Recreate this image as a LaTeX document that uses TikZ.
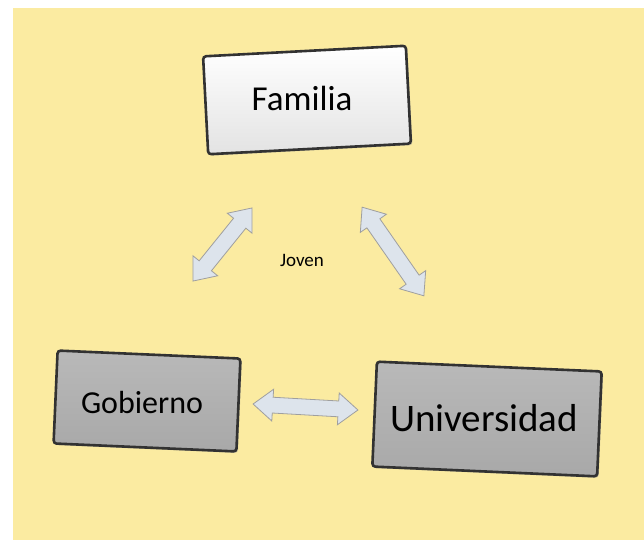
\documentclass[tikz,border=0pt]{standalone}
\usepackage{fontspec}
\setmainfont{Carlito}
\usetikzlibrary{shapes.arrows,shadows}

\definecolor{fondo}{RGB}{251,235,161}
\definecolor{flecha}{RGB}{221,228,236}
\definecolor{borde}{RGB}{50,50,50}

\tikzset{
  caja/.style={rectangle, rounded corners=3pt, draw=borde, line width=2.6pt,
    drop shadow={shadow xshift=1.5pt, shadow yshift=-1.5pt, fill=black!45}},
  cajaclara/.style={caja, top color=white, bottom color=gray!22},
  cajaoscura/.style={caja, top color=gray!55, bottom color=gray!68},
  flechadoble/.style={double arrow, draw=gray!75, fill=flecha, line width=0.8pt,
    inner sep=7.5pt, double arrow head extend=8pt, double arrow tip angle=78}
}

\begin{document}
\begin{tikzpicture}[x=1pt,y=-1pt]
    % \draw[very thin,color=gray] (0,0) grid[step=50] (644,540);
    \useasboundingbox (0,0) rectangle (644,540);
    \fill[white] (0,0) rectangle (644,540);
    \fill[fondo] (13,8) rectangle (644,540);
    %Familia
    \node[cajaclara] [rotate=3, minimum width=203pt, minimum height=98pt] (familia) at (307,100) {};
    \node (tfamilia) at (302,98) {\fontsize{35}{40}\selectfont Familia};
    %Gobierno
    \node[cajaoscura] [rotate=-2.5, minimum width=183pt, minimum height=93pt] (gobierno) at (147,401) {};
    \node (tgobierno) at (142,402) {\fontsize{32}{38}\selectfont Gobierno};
    %Universidad
    \node[cajaoscura] [rotate=-2.5, minimum width=225pt, minimum height=105pt] (universidad) at (487,419) {};
    \node (tuniversidad) at (484,418) {\fontsize{39}{44}\selectfont Universidad};
    %Joven
    \node (joven) at (302,260) {\fontsize{19}{22}\selectfont Joven};
    %flechas
    \coordinate (fg1) at (193,281);
    \coordinate (fg2) at (252,208);
    \path (fg1) -- (fg2) node[flechadoble, sloped, midway, minimum height=94pt] (flechaizq) {};
    \coordinate (fu1) at (362,207);
    \coordinate (fu2) at (424,296);
    \path (fu1) -- (fu2) node[flechadoble, sloped, midway, minimum height=108pt] (flechader) {};
    \coordinate (gu1) at (253,404);
    \coordinate (gu2) at (358,410);
    \path (gu1) -- (gu2) node[flechadoble, sloped, midway, minimum height=105pt] (flechaabajo) {};
\end{tikzpicture}
\end{document}
